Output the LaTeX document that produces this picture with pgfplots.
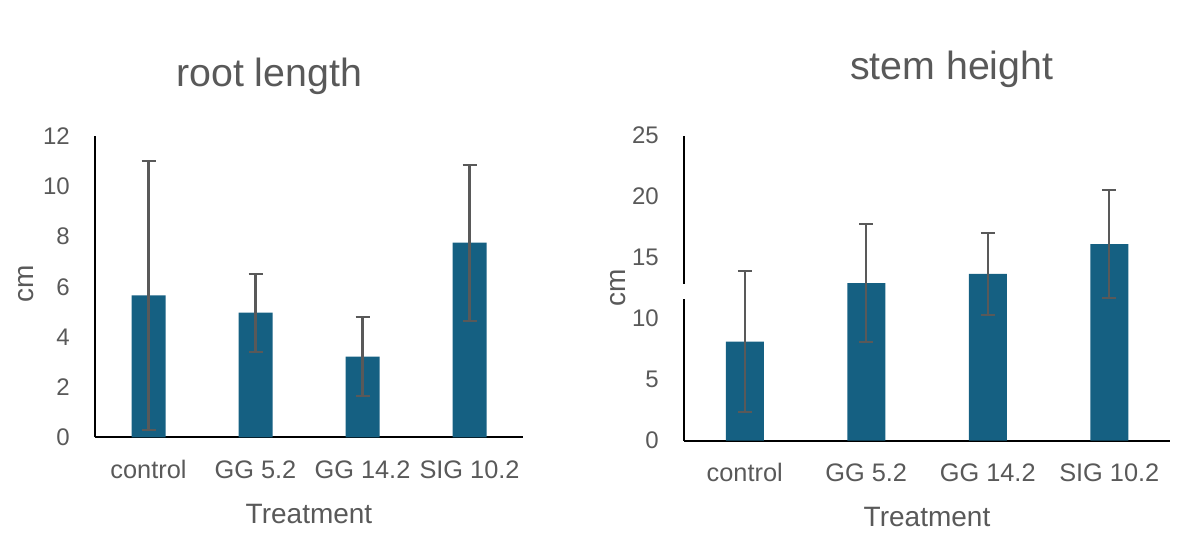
\documentclass[border=0pt]{standalone}
\usepackage{fontspec}
\setmainfont{Liberation Sans}
\usepackage{pgfplots}
\pgfplotsset{compat=1.18}
\usepackage{pgfplotstable}
\definecolor{barc}{HTML}{156082}
\definecolor{txt}{HTML}{595959}

\pgfplotstableread{
x y e
0 5.66 5.35
1 4.97 1.55
2 3.22 1.56
3 7.76 3.11
}\rootdata
\pgfplotstableread{
x y e
0 8.11 5.80
1 12.92 4.83
2 13.66 3.36
3 16.12 4.46
}\stemdata

\pgfplotsset{mystyle/.style={
  scale only axis,
  axis x line=bottom, axis y line=left,
  axis line style={-, black, line width=1.5pt},
  xmin=-0.5, xmax=3.5, xtick={0,1,2,3},
  xticklabels={control, GG 5.2, GG 14.2, SIG 10.2},
  major tick length=0pt,
  ticklabel style={font=\fontsize{18}{20}\selectfont, text=txt, inner sep=0pt},
  xticklabel style={font=\fontsize{19}{21}\selectfont, anchor=base, yshift=-30.75pt},
  yticklabel style={anchor=east, xshift=-18.75pt},
  /pgf/number format/assume math mode=true,
  label style={font=\fontsize{21}{24}\selectfont, text=txt},
  xlabel=Treatment,
  xlabel style={at={(axis description cs:0.5,0)}, anchor=base, yshift=-64.5pt},
  ylabel=cm,
  every axis title/.style={font=\fontsize{29.5}{32}\selectfont, text=txt, anchor=base, inner sep=0pt},
  ymin=0,
  clip=false,
},
errstyle/.style={
  draw=none, mark=none, forget plot, line width=1.5pt,
  error bars/.cd, y dir=both, y explicit,
  error bar style={draw=txt, line width=1.6pt},
  error mark=|,
  error mark options={draw=txt, line width=1.5pt, mark size=5.25pt}},
}

\begin{document}
\begin{tikzpicture}
\path[use as bounding box] (0,0) rectangle (893.25pt,408pt);

\begin{axis}[mystyle,
  at={(71.25pt,80pt)}, anchor=south west,
  width=321pt, height=225.75pt,
  ymax=12, ytick={0,2,...,12},
  title={root length},
  title style={at={(axis description cs:0.407,1.167)}},
  ylabel style={at={(axis description cs:-0.161,0.51)}, anchor=center},
]
\addplot[ybar, bar width=25.5pt, fill=barc, draw=none] table[x=x, y=y]{\rootdata};
\addplot[errstyle] table[x=x, y=y, y error=e]{\rootdata};
\end{axis}

\begin{axis}[mystyle,
  at={(513pt,77.6pt)}, anchor=south west,
  width=364.5pt, height=228.6pt,
  ymax=25, ytick={0,5,...,25},
  title={stem height},
  title style={at={(axis description cs:0.551,1.184)}},
  ylabel style={at={(axis description cs:-0.136,0.5)}, anchor=center},
]
\addplot[ybar, bar width=28.5pt, fill=barc, draw=none] table[x=x, y=y]{\stemdata};
\addplot[errstyle] table[x=x, y=y, y error=e]{\stemdata};
\coordinate (g1) at (axis cs:-0.5,11.64);
\coordinate (g2) at (axis cs:-0.5,12.87);
\end{axis}
\fill[white] ([xshift=-3pt]g1) rectangle ([xshift=3pt]g2);
\end{tikzpicture}
\end{document}
